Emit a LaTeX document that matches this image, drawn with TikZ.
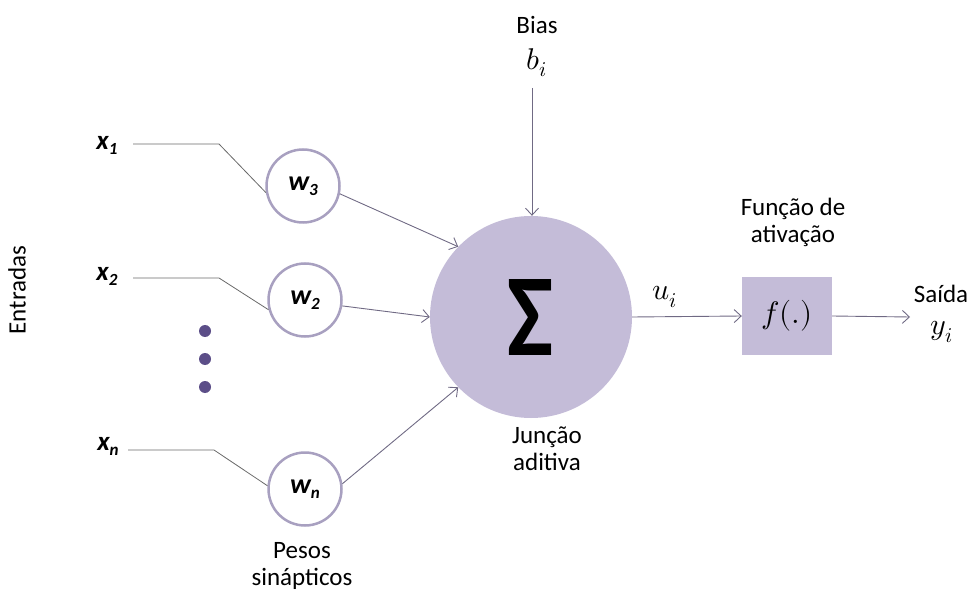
\documentclass[tikz,border=0pt]{standalone}
\usepackage{fontspec}
\usepackage{unicode-math}
\setmainfont{Carlito}
\setmathfont{Latin Modern Math}
\usepackage{graphicx}
\usetikzlibrary{arrows.meta}
\definecolor{sumfill}{RGB}{196,188,216}
\definecolor{wline}{RGB}{168,160,192}
\definecolor{dotc}{RGB}{92,78,136}
\definecolor{linec}{RGB}{105,105,105}
\definecolor{arrc}{RGB}{112,106,132}
\tikzset{
  weight/.style={circle,draw=wline,line width=2.5pt,fill=white,minimum size=73pt,inner sep=0pt},
  inlabel/.style={inner sep=0pt,font=\fontsize{27}{27}\selectfont\bfseries\itshape},
  wire/.style={draw=linec,line width=0.8pt},
  arr/.style={draw=arrc,line width=0.9pt,-{Straight Barb[length=7pt,width=13pt]}},
  txt/.style={inner sep=0pt,align=center,font=\fontsize{25}{27}\selectfont},
  mth/.style={inner sep=0pt,font=\fontsize{30}{30}\selectfont},
  dotn/.style={circle,fill=dotc,minimum size=12pt,inner sep=0pt}
}
\newcommand{\sbx}[1]{\raisebox{-5pt}{\fontsize{17}{17}\selectfont\bfseries\itshape #1}}
\begin{document}
\begin{tikzpicture}[x=1pt,y=-1pt]
\useasboundingbox (0,0) rectangle (971,593);
% labels
\node[txt,rotate=90] (ent) at (17,290) {Entradas};
\node[inlabel] (x1) at (107,145) {x\sbx{1}};
\node[inlabel] (x2) at (107,276) {x\sbx{2}};
\node[inlabel] (xn) at (108,446) {x\sbx{n}};
% weights
\node[weight] (w3) at (303,186) {\fontsize{28}{28}\selectfont\bfseries\itshape w\sbx{3}};
\node[weight] (w2) at (305,300) {\fontsize{28}{28}\selectfont\bfseries\itshape w\sbx{2}};
\node[weight] (wn) at (305,489) {\fontsize{28}{28}\selectfont\bfseries\itshape w\sbx{n}};
\node[dotn] (d1) at (205,331) {};
\node[dotn] (d2) at (205,359) {};
\node[dotn] (d3) at (205,387) {};
\node[txt] (pesos) at (302,566) {Pesos\\sinápticos};
% sum
\node[circle,fill=sumfill,minimum size=202pt,inner sep=0pt] (sig) at (531,317) {\resizebox{46pt}{76pt}{\bfseries Σ}};
\node[txt] (junc) at (547,449) {Junção\\aditiva};
\node[txt] (bias) at (537,25) {Bias};
\node[mth] (bi) at (537,63) {$b_i$};
\coordinate (btop) at (532,88);
% activation
\node[rectangle,fill=sumfill,minimum width=90pt,minimum height=78pt,inner sep=0pt] (fbox) at (787,316) {\fontsize{31}{31}\selectfont$f(.)$};
\node[txt] (fat) at (793,222) {Função de\\ativação};
\node[mth] (ui) at (665,297) {$u_i$};
\node[txt] (said) at (941,294) {Saída};
\node[mth] (yi) at (942,332) {$y_i$};
\coordinate (outend) at (910,317);
% input wires
\coordinate (k1) at (219,144);
\coordinate (k2) at (219,278);
\coordinate (kn) at (214,450);
\draw[wire] (133,144) -- (k1) -- (w3.190);
\draw[wire] (133,278) -- (k2) -- (w2.195);
\draw[wire] (128,450) -- (kn) -- (wn.175);
% arrows to sum
\draw[arr] (w3.-12) -- (sig.136);
\draw[arr] (w2.-9) -- (sig.180);
\draw[arr] (wn.8) -- (sig.224);
\draw[arr] (btop) -- (sig.north -| btop);
\draw[arr] (sig.east) -- (fbox.west);
\draw[arr] (fbox.east) -- (outend);
\end{tikzpicture}
\end{document}
